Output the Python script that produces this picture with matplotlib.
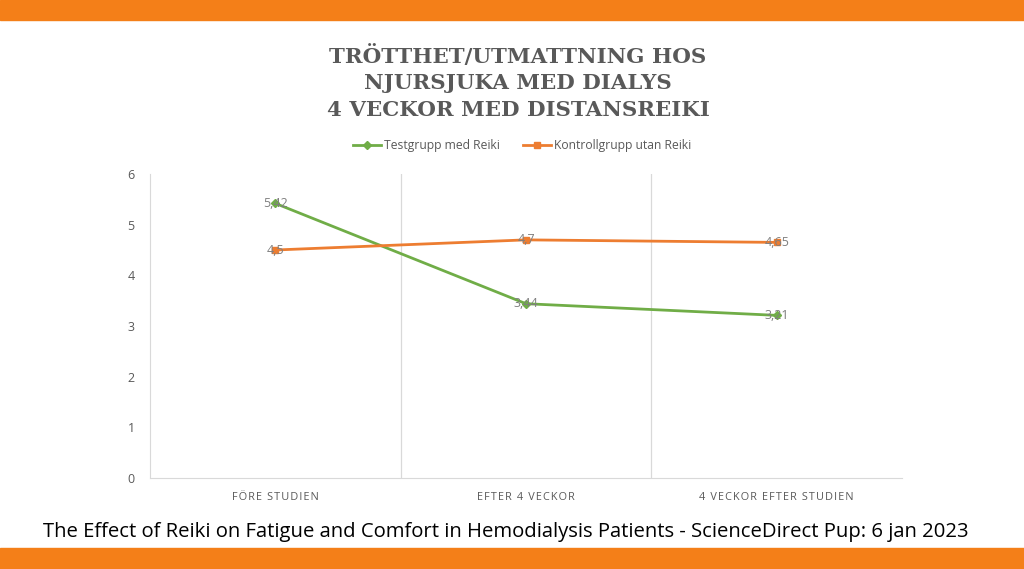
import matplotlib.pyplot as plt
from matplotlib.patches import Rectangle

# Data
kategorier = ["FÖRE STUDIEN", "EFTER 4 VECKOR", "4 VECKOR EFTER STUDIEN"]
testgrupp = [5.42, 3.44, 3.21]
kontrollgrupp = [4.5, 4.7, 4.65]
etiketter_test = ["5,42", "3,44", "3,21"]
etiketter_kontroll = ["4,5", "4,7", "4,65"]

gron = "#70AD47"
orange = "#ED7D31"
gra = "#595959"

fig = plt.figure(figsize=(10.24, 5.69), dpi=100)
fig.patch.set_facecolor("white")

# orange bands top and bottom
fig.add_artist(Rectangle((0, 1 - 20/569), 1, 20/569, transform=fig.transFigure, color="#F47F18", zorder=0))
fig.add_artist(Rectangle((0, 0), 1, 21/569, transform=fig.transFigure, color="#F47F18", zorder=0))

ax = fig.add_axes([150/1024, 1 - 478/569, 752/1024, 304/569])
x = range(len(kategorier))
ax.plot(x, testgrupp, color=gron, lw=2, marker="D", ms=4.5, label="Testgrupp med Reiki", zorder=3)
ax.plot(x, kontrollgrupp, color=orange, lw=2, marker="s", ms=4.5, label="Kontrollgrupp utan Reiki", zorder=3)

for i in x:
    ax.text(i, testgrupp[i], etiketter_test[i], ha="center", va="center", fontsize=9,
            color="#7f7f7f", family="Open Sans", zorder=4)
    ax.text(i, kontrollgrupp[i], etiketter_kontroll[i], ha="center", va="center", fontsize=9,
            color="#7f7f7f", family="Open Sans", zorder=4)

ax.set_xlim(-0.5, 2.5)
ax.set_ylim(0, 6)
ax.set_yticks(range(7))
ax.set_xticks(list(x))
# letter-spaced category labels
ax.set_xticklabels(["\u200a".join(k) for k in kategorier], fontsize=7.8, color=gra,
                   family=["Open Sans", "DejaVu Sans"])
ax.tick_params(axis="y", labelsize=9, labelcolor=gra, length=0, pad=11)
ax.tick_params(axis="x", length=0, pad=10)
for lab in ax.get_yticklabels():
    lab.set_family("Open Sans")

for xv in [0.5, 1.5]:
    ax.axvline(xv, color="#d9d9d9", lw=0.9, zorder=1)
for s in ["top", "right"]:
    ax.spines[s].set_visible(False)
ax.spines["left"].set_color("#d9d9d9")
ax.spines["bottom"].set_color("#d9d9d9")

leg = ax.legend(loc="center", bbox_to_anchor=(522/1024, 1 - 146/569), bbox_transform=fig.transFigure,
                ncol=2, frameon=False, handlelength=2.3, handletextpad=0.25, columnspacing=1.9,
                prop={"family": "Open Sans", "size": 8.7})
for t in leg.get_texts():
    t.set_color(gra)

titel = ["TRÖTTHET/UTMATTNING HOS", "NJURSJUKA MED DIALYS", "4 VECKOR MED DISTANSREIKI"]
for i, rad in enumerate(titel):
    fig.text(518/1024, 1 - (56 + 27*i)/569, rad, ha="center", va="center", fontsize=15.4,
             fontweight="bold", color=gra, family="DejaVu Serif")

fig.text(506/1024, 1 - 532/569,
         "The Effect of Reiki on Fatigue and Comfort in Hemodialysis Patients - ScienceDirect Pup: 6 jan 2023",
         ha="center", va="center", fontsize=14.6, color="black", family="Open Sans")

fig.savefig("out.png", dpi=100)
